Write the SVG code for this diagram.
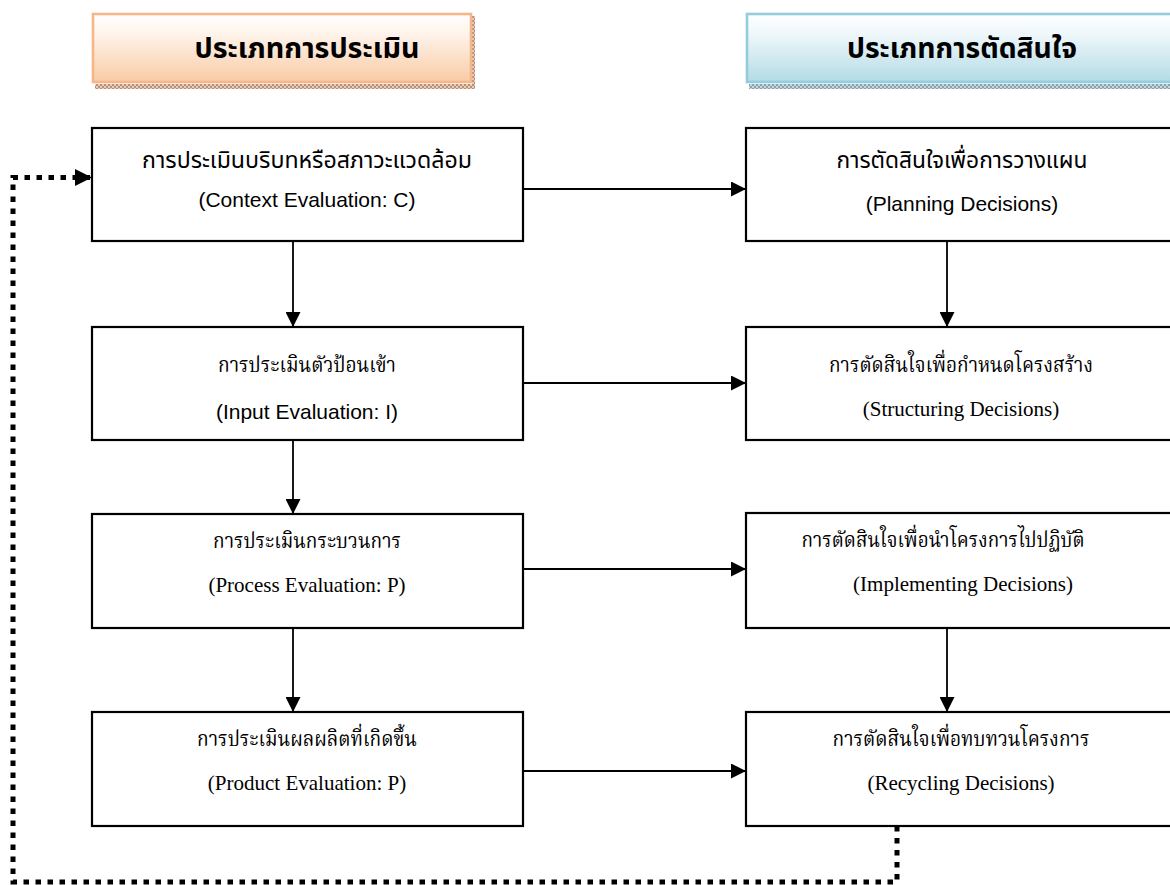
<svg xmlns="http://www.w3.org/2000/svg" width="1170" height="885" viewBox="0 0 1170 885">
<defs>
  <linearGradient id="gOrange" x1="0" y1="0" x2="0" y2="1">
    <stop offset="0" stop-color="#FFFFFF"/>
    <stop offset="0.3" stop-color="#FEF3EA"/>
    <stop offset="1" stop-color="#F9CBA4"/>
  </linearGradient>
  <linearGradient id="gBlue" x1="0" y1="0" x2="0" y2="1">
    <stop offset="0" stop-color="#FFFFFF"/>
    <stop offset="0.3" stop-color="#EEF7FA"/>
    <stop offset="1" stop-color="#B3DBE6"/>
  </linearGradient>
  <pattern id="pOrange" width="4" height="4" patternUnits="userSpaceOnUse">
    <rect width="4" height="4" fill="#E8CDBB"/>
    <rect width="2" height="2" fill="#B89078"/>
    <rect x="2" y="2" width="2" height="2" fill="#B89078"/>
  </pattern>
  <pattern id="pBlue" width="4" height="4" patternUnits="userSpaceOnUse">
    <rect width="4" height="4" fill="#C8D6DC"/>
    <rect width="2" height="2" fill="#8AA2AC"/>
    <rect x="2" y="2" width="2" height="2" fill="#8AA2AC"/>
  </pattern>
  <marker id="arr" viewBox="0 0 10 10" refX="10" refY="5" markerWidth="15" markerHeight="15" markerUnits="userSpaceOnUse" orient="auto">
    <path d="M0,0 L10,5 L0,10 Z" fill="#000"/>
  </marker>
  <marker id="arrBig" viewBox="0 0 10 10" refX="10" refY="5" markerWidth="17" markerHeight="17" markerUnits="userSpaceOnUse" orient="auto">
    <path d="M0,0 L10,5 L0,10 Z" fill="#000"/>
  </marker>
</defs>
<style>
  .box { fill: #FFFFFF; stroke: #000; stroke-width: 2.2; }
  .conn { stroke: #000; stroke-width: 1.8; fill: none; marker-end: url(#arr); }
  .dash { stroke: #000; stroke-width: 5; fill: none; stroke-dasharray: 5.5 6.5; marker-end: url(#arrBig); }
  .hdr { font-family: "Liberation Sans", "Noto Sans Thai", "Noto Sans", sans-serif; font-size: 28.5px; font-weight: bold; fill: #000; text-anchor: middle; }
  .ts { font-family: "Liberation Sans", "Noto Sans Thai", "Noto Sans", sans-serif; font-size: 21px; fill: #000; text-anchor: middle; }
  .tst { font-family: "Liberation Sans", "Noto Sans Thai", "Noto Sans", sans-serif; font-size: 23px; fill: #000; text-anchor: middle; }
  .tr { font-family: "Liberation Serif", "Noto Serif Thai", "Noto Sans Thai", serif; font-size: 21px; fill: #000; text-anchor: middle; }
</style>
<rect width="1170" height="885" fill="#FFFFFF"/>

<g id="header-evaluation">
  <rect x="95" y="84" width="380" height="5" fill="url(#pOrange)"/>
  <rect x="472" y="16" width="3" height="73" fill="url(#pOrange)"/>
  <rect x="93" y="14" width="378" height="68" fill="url(#gOrange)" stroke="#F5B78A" stroke-width="2.6"/>
  <text class="hdr" x="307" y="58" textLength="225" lengthAdjust="spacingAndGlyphs">ประเภทการประเมิน</text>
</g>

<g id="header-decision">
  <rect x="749" y="84" width="430" height="5" fill="url(#pBlue)"/>
  <rect x="747" y="14" width="430" height="68" fill="url(#gBlue)" stroke="#93CDDD" stroke-width="2.6"/>
  <text class="hdr" x="962" y="58" textLength="230" lengthAdjust="spacingAndGlyphs">ประเภทการตัดสินใจ</text>
</g>

<g id="context-eval">
  <rect class="box" x="92" y="128" width="431" height="113"/>
  <text class="tst" x="307" y="168" textLength="330" lengthAdjust="spacingAndGlyphs">การประเมินบริบทหรือสภาวะแวดล้อม</text>
  <text class="ts" x="307" y="207">(Context Evaluation: C)</text>
</g>

<g id="input-eval">
  <rect class="box" x="92" y="327" width="431" height="113"/>
  <text class="tr" x="307" y="372" textLength="178" lengthAdjust="spacingAndGlyphs">การประเมินตัวป้อนเข้า</text>
  <text class="ts" x="307" y="419">(Input Evaluation: I)</text>
</g>

<g id="process-eval">
  <rect class="box" x="92" y="514" width="431" height="114"/>
  <text class="tr" x="307" y="548" textLength="188" lengthAdjust="spacingAndGlyphs">การประเมินกระบวนการ</text>
  <text class="tr" x="307" y="592">(Process Evaluation: P)</text>
</g>

<g id="product-eval">
  <rect class="box" x="92" y="712" width="431" height="114"/>
  <text class="tr" x="307" y="746" textLength="220" lengthAdjust="spacingAndGlyphs">การประเมินผลผลิตที่เกิดขึ้น</text>
  <text class="tr" x="307" y="790">(Product Evaluation: P)</text>
</g>

<g id="planning">
  <rect class="box" x="746" y="128" width="431" height="113"/>
  <text class="tst" x="962" y="168" textLength="251" lengthAdjust="spacingAndGlyphs">การตัดสินใจเพื่อการวางแผน</text>
  <text class="ts" x="962" y="211">(Planning Decisions)</text>
</g>

<g id="structuring">
  <rect class="box" x="746" y="327" width="431" height="113"/>
  <text class="tr" x="961" y="372" textLength="264" lengthAdjust="spacingAndGlyphs">การตัดสินใจเพื่อกำหนดโครงสร้าง</text>
  <text class="tr" x="961" y="416">(Structuring Decisions)</text>
</g>

<g id="implementing">
  <rect class="box" x="746" y="513" width="431" height="115"/>
  <text class="tr" x="943" y="547" textLength="283" lengthAdjust="spacingAndGlyphs">การตัดสินใจเพื่อนำโครงการไปปฏิบัติ</text>
  <text class="tr" x="963" y="591">(Implementing Decisions)</text>
</g>

<g id="recycling">
  <rect class="box" x="746" y="712" width="431" height="114"/>
  <text class="tr" x="961" y="746" textLength="257" lengthAdjust="spacingAndGlyphs">การตัดสินใจเพื่อทบทวนโครงการ</text>
  <text class="tr" x="961" y="790">(Recycling Decisions)</text>
</g>

<g id="connectors">
  <line class="conn" x1="293" y1="241" x2="293" y2="327"/>
  <line class="conn" x1="293" y1="440" x2="293" y2="514"/>
  <line class="conn" x1="293" y1="628" x2="293" y2="712"/>
  <line class="conn" x1="523" y1="189" x2="746" y2="189"/>
  <line class="conn" x1="523" y1="383" x2="746" y2="383"/>
  <line class="conn" x1="523" y1="569" x2="746" y2="569"/>
  <line class="conn" x1="523" y1="771" x2="746" y2="771"/>
  <line class="conn" x1="947" y1="241" x2="947" y2="327"/>
  <line class="conn" x1="947" y1="628" x2="947" y2="712"/>
  <path class="dash" d="M897,826 L897,882 L13,882 L13,177.5 L92,177.5"/>
</g>
</svg>
